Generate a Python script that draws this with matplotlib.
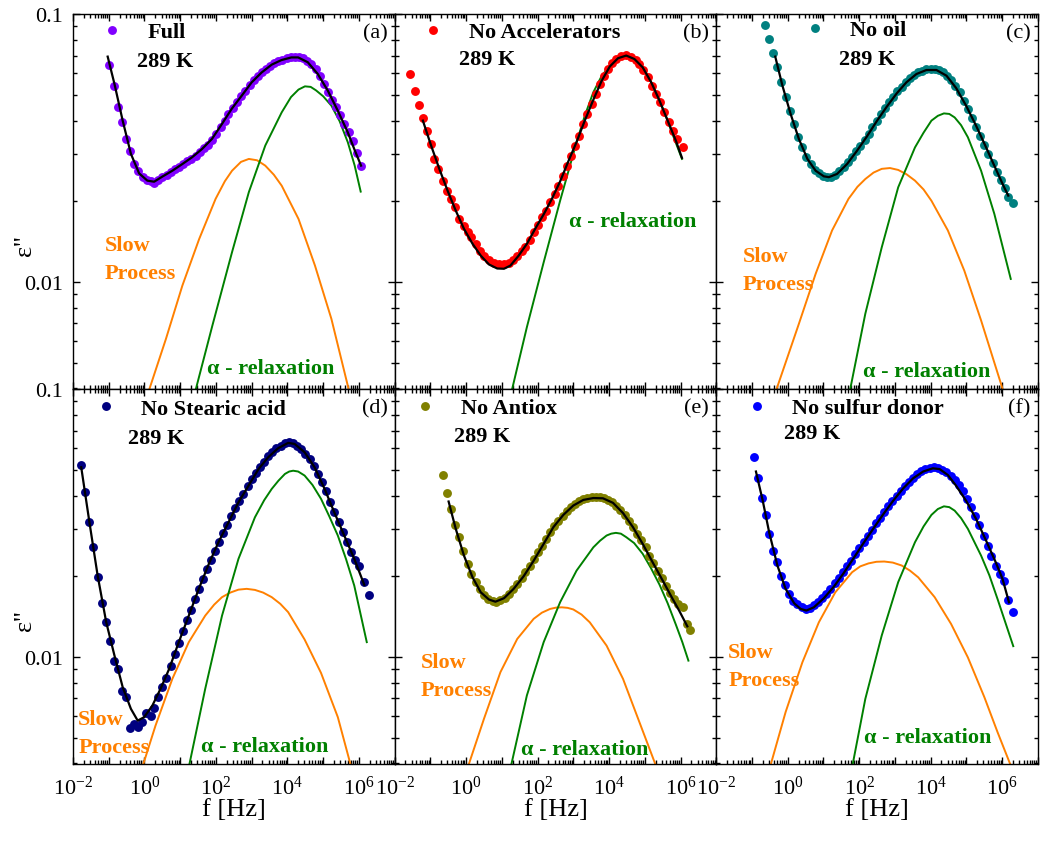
import matplotlib
matplotlib.use('Agg')
import matplotlib.pyplot as plt
import numpy as np
from matplotlib.lines import Line2D
from matplotlib.ticker import FixedLocator, LogLocator, NullFormatter, FuncFormatter

plt.rcParams['font.family'] = 'Liberation Serif'
plt.rcParams['mathtext.fontset'] = 'custom'
plt.rcParams['mathtext.rm'] = 'Liberation Serif'
plt.rcParams['mathtext.it'] = 'Liberation Serif:italic'
plt.rcParams['mathtext.bf'] = 'Liberation Serif:bold'

# every series below is (log10 f [Hz], log10 eps'') at 289 K

# --- Full
full_data = [(-0.98, -1.189), (-0.86, -1.267), (-0.74, -1.346), (-0.62, -1.404), (-0.52, -1.466),
             (-0.41, -1.510), (-0.29, -1.560), (-0.17, -1.587), (-0.05, -1.607), (0.07, -1.618),
             (0.19, -1.624), (0.28, -1.629), (0.39, -1.619), (0.50, -1.609), (0.62, -1.600),
             (0.74, -1.590), (0.85, -1.580), (0.96, -1.570), (1.08, -1.560), (1.20, -1.550),
             (1.31, -1.540), (1.43, -1.529), (1.55, -1.516), (1.67, -1.502), (1.78, -1.488),
             (1.89, -1.470), (2.01, -1.448), (2.13, -1.423), (2.24, -1.398), (2.35, -1.373),
             (2.47, -1.351), (2.59, -1.328), (2.70, -1.306), (2.81, -1.286), (2.94, -1.266),
             (3.06, -1.246), (3.17, -1.231), (3.28, -1.216), (3.40, -1.204), (3.52, -1.193),
             (3.63, -1.184), (3.74, -1.177), (3.86, -1.170), (3.98, -1.165), (4.09, -1.162),
             (4.20, -1.159), (4.32, -1.159), (4.44, -1.164), (4.56, -1.174), (4.67, -1.187),
             (4.79, -1.205), (4.91, -1.230), (5.02, -1.261), (5.13, -1.292), (5.25, -1.321),
             (5.37, -1.348), (5.48, -1.376), (5.59, -1.410), (5.71, -1.440), (5.83, -1.475),
             (5.94, -1.520), (6.06, -1.566)]
full_fit = [(-1.03, -1.159), (-0.84, -1.261), (-0.61, -1.398), (-0.38, -1.522), (-0.15, -1.595),
            (0.08, -1.622), (0.27, -1.626), (0.50, -1.607), (0.78, -1.585), (1.06, -1.560),
            (1.33, -1.535), (1.61, -1.504), (1.89, -1.466), (2.17, -1.410), (2.44, -1.354),
            (2.72, -1.305), (3.00, -1.255), (3.28, -1.218), (3.56, -1.189), (3.83, -1.172),
            (4.11, -1.162), (4.30, -1.162), (4.57, -1.180), (4.85, -1.224), (5.13, -1.286),
            (5.41, -1.361), (5.69, -1.442), (5.87, -1.504), (6.06, -1.566)]
full_slow = [(0.14, -2.399), (0.60, -2.213), (1.06, -2.014), (1.53, -1.840), (1.99, -1.690),
             (2.25, -1.624), (2.45, -1.585), (2.70, -1.552), (2.92, -1.541), (3.15, -1.546),
             (3.38, -1.566), (3.62, -1.600), (3.84, -1.641), (4.31, -1.765), (4.77, -1.939),
             (5.23, -2.138), (5.71, -2.399)]
full_alpha = [(1.44, -2.399), (1.90, -2.163), (2.45, -1.889), (2.92, -1.665), (3.38, -1.491),
              (3.84, -1.367), (4.10, -1.310), (4.31, -1.282), (4.49, -1.270), (4.65, -1.272),
              (4.80, -1.285), (5.00, -1.307), (5.23, -1.342), (5.46, -1.400), (5.69, -1.479),
              (5.88, -1.565), (6.05, -1.663)]

# --- No Accelerators
noacc_data = [(-1.58, -1.224), (-1.44, -1.286), (-1.33, -1.338), (-1.21, -1.388), (-1.09, -1.435),
              (-0.98, -1.485), (-0.89, -1.541), (-0.78, -1.578), (-0.66, -1.622), (-0.54, -1.659),
              (-0.43, -1.690), (-0.31, -1.721), (-0.19, -1.765), (-0.07, -1.790), (0.04, -1.815),
              (0.15, -1.833), (0.27, -1.858), (0.39, -1.886), (0.50, -1.902), (0.64, -1.920),
              (0.78, -1.930), (0.92, -1.935), (1.06, -1.935), (1.19, -1.930), (1.31, -1.920),
              (1.43, -1.905), (1.55, -1.886), (1.66, -1.868), (1.78, -1.843), (1.89, -1.815),
              (2.00, -1.786), (2.12, -1.759), (2.24, -1.734), (2.35, -1.703), (2.49, -1.672),
              (2.58, -1.641), (2.70, -1.603), (2.81, -1.566), (2.93, -1.529), (3.05, -1.491),
              (3.17, -1.454), (3.28, -1.410), (3.39, -1.373), (3.51, -1.336), (3.63, -1.299),
              (3.74, -1.261), (3.85, -1.230), (3.97, -1.205), (4.09, -1.184), (4.20, -1.168),
              (4.34, -1.158), (4.48, -1.153), (4.62, -1.159), (4.74, -1.172), (4.85, -1.187),
              (4.96, -1.209), (5.08, -1.236), (5.20, -1.267), (5.31, -1.299), (5.43, -1.330),
              (5.55, -1.367), (5.67, -1.404), (5.78, -1.435), (5.89, -1.466), (6.06, -1.498)]
noacc_fit = [(-1.21, -1.398), (-0.98, -1.491), (-0.75, -1.578), (-0.52, -1.659), (-0.29, -1.734),
             (-0.06, -1.802), (0.18, -1.858), (0.41, -1.902), (0.64, -1.935), (0.87, -1.950),
             (1.06, -1.951), (1.24, -1.939), (1.47, -1.902), (1.70, -1.858), (1.94, -1.800),
             (2.17, -1.748), (2.40, -1.690), (2.63, -1.625), (2.86, -1.550), (3.09, -1.478),
             (3.32, -1.398), (3.56, -1.320), (3.79, -1.250), (4.02, -1.196), (4.25, -1.165),
             (4.48, -1.155), (4.71, -1.168), (4.94, -1.199), (5.18, -1.255), (5.41, -1.323),
             (5.64, -1.398), (5.87, -1.473), (6.04, -1.537)]
noacc_alpha = [(1.29, -2.399), (1.70, -2.169), (2.17, -1.927), (2.63, -1.697), (3.09, -1.479),
               (3.32, -1.380), (3.56, -1.292), (3.79, -1.232), (4.02, -1.193), (4.28, -1.168),
               (4.53, -1.159), (4.74, -1.168), (4.94, -1.199), (5.18, -1.255), (5.41, -1.323),
               (5.60, -1.385), (5.78, -1.450), (6.04, -1.541)]

# --- No oil
nooil_data = [(-0.63, -1.040), (-0.52, -1.093), (-0.41, -1.146), (-0.29, -1.199), (-0.18, -1.255),
              (-0.06, -1.308), (0.06, -1.361), (0.18, -1.410), (0.30, -1.460), (0.41, -1.498),
              (0.52, -1.532), (0.64, -1.560), (0.76, -1.582), (0.87, -1.595), (0.98, -1.604),
              (1.10, -1.609), (1.22, -1.607), (1.33, -1.600), (1.44, -1.587), (1.56, -1.572),
              (1.69, -1.553), (1.80, -1.535), (1.91, -1.512), (2.03, -1.491), (2.15, -1.470),
              (2.26, -1.448), (2.37, -1.423), (2.49, -1.398), (2.61, -1.373), (2.72, -1.351),
              (2.83, -1.330), (2.95, -1.308), (3.07, -1.289), (3.19, -1.271), (3.30, -1.255),
              (3.42, -1.240), (3.54, -1.228), (3.65, -1.218), (3.76, -1.211), (3.88, -1.206),
              (4.00, -1.205), (4.11, -1.205), (4.22, -1.209), (4.34, -1.218), (4.46, -1.230),
              (4.57, -1.246), (4.69, -1.267), (4.81, -1.292), (4.93, -1.323), (5.04, -1.354),
              (5.15, -1.388), (5.27, -1.420), (5.39, -1.454), (5.50, -1.488), (5.61, -1.522),
              (5.73, -1.557), (5.85, -1.591), (5.96, -1.619), (6.07, -1.649), (6.17, -1.684),
              (6.30, -1.704)]
nooil_fit = [(-0.35, -1.159), (-0.15, -1.267), (0.08, -1.373), (0.31, -1.466), (0.55, -1.541),
             (0.78, -1.585), (1.01, -1.606), (1.15, -1.609), (1.38, -1.597), (1.66, -1.560),
             (1.94, -1.510), (2.21, -1.458), (2.49, -1.400), (2.77, -1.346), (3.05, -1.296),
             (3.32, -1.255), (3.60, -1.224), (3.88, -1.209), (4.16, -1.209), (4.44, -1.230),
             (4.71, -1.276), (4.99, -1.342), (5.27, -1.417), (5.55, -1.498), (5.82, -1.578),
             (6.01, -1.634), (6.17, -1.678)]
nooil_slow = [(-0.31, -2.399), (0.31, -2.157), (0.78, -1.970), (1.24, -1.808), (1.70, -1.690),
              (1.95, -1.645), (2.17, -1.616), (2.40, -1.592), (2.63, -1.578), (2.86, -1.575),
              (3.09, -1.582), (3.32, -1.598), (3.56, -1.622), (3.80, -1.655), (4.02, -1.697),
              (4.48, -1.808), (4.94, -1.958), (5.41, -2.144), (6.01, -2.399)]
nooil_alpha = [(1.75, -2.399), (2.17, -2.119), (2.63, -1.871), (3.09, -1.647), (3.56, -1.498),
               (3.80, -1.443), (4.02, -1.398), (4.20, -1.380), (4.37, -1.371), (4.52, -1.373),
               (4.67, -1.386), (4.85, -1.415), (5.04, -1.460), (5.41, -1.585), (5.78, -1.746),
               (6.24, -1.989)]

# --- No Stearic acid
nosa_data = [(-1.77, -1.284), (-1.66, -1.386), (-1.54, -1.498), (-1.43, -1.591), (-1.31, -1.703),
             (-1.19, -1.800), (-1.09, -1.871), (-0.96, -1.942), (-0.84, -2.017), (-0.73, -2.047),
             (-0.63, -2.126), (-0.52, -2.150), (-0.41, -2.265), (-0.29, -2.250), (-0.18, -2.260),
             (-0.06, -2.244), (0.04, -2.209), (0.18, -2.221), (0.27, -2.192), (0.39, -2.150),
             (0.50, -2.113), (0.61, -2.080), (0.73, -2.035), (0.84, -1.991), (0.96, -1.949),
             (1.07, -1.905), (1.19, -1.864), (1.29, -1.825), (1.41, -1.784), (1.52, -1.746),
             (1.63, -1.711), (1.75, -1.672), (1.87, -1.637), (1.98, -1.603), (2.09, -1.570),
             (2.21, -1.537), (2.31, -1.507), (2.43, -1.475), (2.54, -1.445), (2.65, -1.417),
             (2.77, -1.392), (2.89, -1.363), (3.00, -1.336), (3.11, -1.313), (3.23, -1.292),
             (3.35, -1.271), (3.46, -1.251), (3.57, -1.236), (3.69, -1.221), (3.81, -1.211),
             (3.93, -1.203), (4.04, -1.199), (4.16, -1.201), (4.28, -1.211), (4.39, -1.224),
             (4.50, -1.243), (4.62, -1.261), (4.74, -1.286), (4.85, -1.317), (4.96, -1.348),
             (5.08, -1.379), (5.20, -1.420), (5.31, -1.458), (5.43, -1.495), (5.55, -1.532),
             (5.67, -1.570), (5.78, -1.607), (5.89, -1.637), (6.01, -1.659), (6.15, -1.721),
             (6.29, -1.769)]
nosa_fit = [(-1.77, -1.292), (-1.54, -1.498), (-1.31, -1.697), (-1.07, -1.871), (-0.84, -1.995),
            (-0.61, -2.113), (-0.38, -2.194), (-0.19, -2.238), (-0.01, -2.225), (0.22, -2.182),
            (0.45, -2.119), (0.69, -2.045), (0.96, -1.945), (1.24, -1.846), (1.52, -1.746),
            (1.80, -1.653), (2.07, -1.572), (2.35, -1.498), (2.63, -1.423), (2.91, -1.361),
            (3.19, -1.299), (3.46, -1.255), (3.74, -1.221), (4.02, -1.201), (4.20, -1.205),
            (4.48, -1.236), (4.76, -1.292), (5.04, -1.373), (5.31, -1.460), (5.59, -1.547),
            (5.87, -1.634), (6.15, -1.731)]
nosa_slow = [(-0.03, -2.399), (0.31, -2.256), (0.78, -2.082), (1.24, -1.945), (1.70, -1.846),
             (1.95, -1.805), (2.17, -1.777), (2.40, -1.760), (2.63, -1.749), (2.86, -1.746),
             (3.09, -1.750), (3.32, -1.760), (3.56, -1.777), (3.80, -1.802), (4.02, -1.833),
             (4.48, -1.935), (4.94, -2.060), (5.41, -2.225), (5.76, -2.399)]
nosa_alpha = [(1.26, -2.399), (1.70, -2.119), (2.17, -1.846), (2.63, -1.634), (3.09, -1.479),
              (3.35, -1.415), (3.56, -1.373), (3.75, -1.342), (3.93, -1.317), (4.05, -1.308),
              (4.16, -1.305), (4.30, -1.308), (4.48, -1.323), (4.70, -1.358), (4.94, -1.410),
              (5.17, -1.475), (5.41, -1.547), (5.64, -1.635), (5.87, -1.734), (6.22, -1.945)]

# --- No Antiox
noaox_data = [(-0.66, -1.321), (-0.54, -1.388), (-0.43, -1.448), (-0.31, -1.507), (-0.19, -1.553),
              (-0.08, -1.603), (0.04, -1.653), (0.15, -1.690), (0.27, -1.719), (0.39, -1.746),
              (0.50, -1.769), (0.62, -1.784), (0.74, -1.792), (0.85, -1.794), (0.96, -1.789),
              (1.08, -1.779), (1.19, -1.765), (1.31, -1.746), (1.43, -1.728), (1.55, -1.706),
              (1.66, -1.684), (1.78, -1.659), (1.89, -1.634), (2.00, -1.609), (2.12, -1.585),
              (2.24, -1.560), (2.35, -1.535), (2.46, -1.512), (2.58, -1.491), (2.70, -1.473),
              (2.81, -1.456), (2.93, -1.442), (3.05, -1.429), (3.17, -1.419), (3.28, -1.412),
              (3.39, -1.407), (3.51, -1.404), (3.63, -1.403), (3.74, -1.404), (3.85, -1.408),
              (3.97, -1.414), (4.09, -1.423), (4.20, -1.435), (4.31, -1.450), (4.44, -1.470),
              (4.56, -1.491), (4.67, -1.516), (4.78, -1.540), (4.90, -1.565), (5.02, -1.590),
              (5.13, -1.622), (5.24, -1.649), (5.36, -1.678), (5.48, -1.706), (5.59, -1.734),
              (5.70, -1.761), (5.82, -1.784), (5.94, -1.802), (6.06, -1.815), (6.17, -1.877),
              (6.27, -1.898)]
noaox_fit = [(-0.49, -1.420), (-0.29, -1.522), (-0.06, -1.622), (0.18, -1.703), (0.41, -1.759),
             (0.64, -1.786), (0.82, -1.794), (1.06, -1.781), (1.33, -1.746), (1.61, -1.699),
             (1.89, -1.641), (2.17, -1.578), (2.44, -1.516), (2.72, -1.470), (3.00, -1.435),
             (3.28, -1.414), (3.56, -1.407), (3.83, -1.408), (4.11, -1.425), (4.39, -1.463),
             (4.67, -1.516), (4.94, -1.578), (5.22, -1.647), (5.50, -1.715), (5.78, -1.784),
             (5.96, -1.827), (6.19, -1.886)]
noaox_slow = [(0.08, -2.399), (0.50, -2.231), (0.96, -2.057), (1.43, -1.933), (1.89, -1.858),
              (2.12, -1.835), (2.35, -1.821), (2.52, -1.816), (2.68, -1.815), (2.84, -1.817),
              (3.00, -1.823), (3.23, -1.842), (3.46, -1.871), (3.93, -1.958), (4.39, -2.082),
              (4.85, -2.244), (5.29, -2.399)]
noaox_alpha = [(1.27, -2.399), (1.70, -2.144), (2.17, -1.945), (2.63, -1.796), (3.09, -1.678),
               (3.56, -1.591), (3.75, -1.566), (3.93, -1.547), (4.06, -1.540), (4.19, -1.537),
               (4.33, -1.540), (4.48, -1.553), (4.70, -1.575), (4.94, -1.615), (5.17, -1.668),
               (5.41, -1.730), (5.64, -1.800), (5.87, -1.880), (6.05, -1.945), (6.22, -2.014)]

# --- No sulfur donor
nosd_data = [(-0.95, -1.255), (-0.83, -1.333), (-0.72, -1.405), (-0.61, -1.470), (-0.52, -1.541),
             (-0.41, -1.603), (-0.29, -1.644), (-0.19, -1.699), (-0.07, -1.731), (0.04, -1.765),
             (0.16, -1.790), (0.27, -1.802), (0.39, -1.815), (0.50, -1.823), (0.62, -1.818),
             (0.74, -1.808), (0.85, -1.796), (0.96, -1.781), (1.08, -1.764), (1.19, -1.746),
             (1.31, -1.726), (1.43, -1.706), (1.54, -1.684), (1.66, -1.662), (1.78, -1.641),
             (1.89, -1.616), (2.00, -1.592), (2.12, -1.570), (2.24, -1.547), (2.35, -1.525),
             (2.46, -1.501), (2.58, -1.480), (2.70, -1.458), (2.81, -1.438), (2.93, -1.417),
             (3.05, -1.398), (3.17, -1.379), (3.28, -1.361), (3.39, -1.346), (3.51, -1.331),
             (3.63, -1.317), (3.74, -1.306), (3.85, -1.299), (3.97, -1.294), (4.09, -1.291),
             (4.20, -1.294), (4.31, -1.301), (4.44, -1.311), (4.56, -1.323), (4.67, -1.338),
             (4.78, -1.358), (4.90, -1.379), (5.02, -1.410), (5.13, -1.442), (5.24, -1.473),
             (5.36, -1.507), (5.48, -1.547), (5.59, -1.585), (5.70, -1.622), (5.82, -1.659),
             (5.94, -1.690), (6.06, -1.715), (6.17, -1.786), (6.30, -1.831)]
nosd_fit = [(-0.89, -1.308), (-0.70, -1.417), (-0.52, -1.535), (-0.29, -1.659), (-0.06, -1.746),
            (0.18, -1.800), (0.36, -1.821), (0.52, -1.827), (0.73, -1.815), (1.01, -1.781),
            (1.29, -1.738), (1.56, -1.688), (1.84, -1.632), (2.12, -1.575), (2.40, -1.520),
            (2.68, -1.466), (2.95, -1.417), (3.23, -1.371), (3.51, -1.333), (3.79, -1.308),
            (4.06, -1.296), (4.25, -1.299), (4.48, -1.321), (4.71, -1.361), (4.99, -1.417),
            (5.27, -1.485), (5.55, -1.566), (5.82, -1.647), (6.01, -1.709), (6.19, -1.796)]
nosd_slow = [(-0.47, -2.399), (-0.06, -2.206), (0.41, -2.020), (0.87, -1.871), (1.33, -1.759),
             (1.80, -1.684), (2.03, -1.662), (2.26, -1.651), (2.48, -1.645), (2.70, -1.644),
             (2.94, -1.648), (3.19, -1.659), (3.42, -1.678), (3.65, -1.703), (4.11, -1.777),
             (4.57, -1.877), (5.04, -2.002), (5.50, -2.150), (5.87, -2.281), (6.22, -2.399)]
nosd_alpha = [(1.82, -2.399), (2.17, -2.157), (2.63, -1.920), (3.09, -1.721), (3.56, -1.572),
              (3.80, -1.513), (4.02, -1.470), (4.20, -1.448), (4.37, -1.438), (4.52, -1.441),
              (4.67, -1.454), (4.85, -1.482), (5.04, -1.522), (5.41, -1.622), (5.64, -1.695),
              (5.87, -1.784), (6.31, -1.960)]

ORANGE = '#FF8000'
GREEN = '#008000'
MS = 6.4

panels = [
    dict(tag='(a)', name='Full', color='#8000FF', data=full_data, fit=full_fit,
         slow=full_slow, alpha=full_alpha, leg=(0.115, 0.952), temp=(0.199, 0.875),
         slow_at=(0.099, 0.347), alpha_at=(0.416, 0.056)),
    dict(tag='(b)', name='No Accelerators', color='#FF0000', data=noacc_data, fit=noacc_fit,
         slow=None, alpha=noacc_alpha, leg=(0.115, 0.952), temp=(0.199, 0.880),
         slow_at=None, alpha_at=(0.543, 0.448)),
    dict(tag='(c)', name='No oil', color='#008080', data=nooil_data, fit=nooil_fit,
         slow=nooil_slow, alpha=nooil_alpha, leg=(0.301, 0.957), temp=(0.382, 0.880),
         slow_at=(0.081, 0.317), alpha_at=(0.457, 0.048)),
    dict(tag='(d)', name='No Stearic acid', color='#000080', data=nosa_data, fit=nosa_fit,
         slow=nosa_slow, alpha=nosa_alpha, leg=(0.096, 0.947), temp=(0.171, 0.869),
         slow_at=(0.016, 0.083), alpha_at=(0.398, 0.048)),
    dict(tag='(e)', name='No Antiox', color='#808000', data=noaox_data, fit=noaox_fit,
         slow=noaox_slow, alpha=noaox_alpha, leg=(0.090, 0.949), temp=(0.183, 0.875),
         slow_at=(0.081, 0.235), alpha_at=(0.394, 0.040)),
    dict(tag='(f)', name='No sulfur donor', color='#0000FF', data=nosd_data, fit=nosd_fit,
         slow=nosd_slow, alpha=nosd_alpha, leg=(0.120, 0.949), temp=(0.211, 0.883),
         slow_at=(0.037, 0.261), alpha_at=(0.460, 0.072)),
]


def to_lin(pts):
    arr = np.array(pts, dtype=float)
    return 10 ** arr[:, 0], 10 ** arr[:, 1]


def xlabel_fmt(v, pos):
    e = int(round(np.log10(v)))
    if e % 2 == 0 and e <= 6:
        return '$10^{%d}$' % e
    return ''


def draw_panel(ax, p):
    if p['slow'] is not None:
        x, y = to_lin(p['slow'])
        ax.plot(x, y, color=ORANGE, lw=1.4, zorder=2, solid_joinstyle='round')
    x, y = to_lin(p['alpha'])
    ax.plot(x, y, color=GREEN, lw=1.4, zorder=2, solid_joinstyle='round')
    x, y = to_lin(p['data'])
    ax.plot(x, y, ls='none', marker='o', ms=MS, mec='none', color=p['color'], zorder=3)
    x, y = to_lin(p['fit'])
    ax.plot(x, y, color='black', lw=1.6, zorder=4, solid_joinstyle='round')

    handle = Line2D([], [], ls='none', marker='o', ms=MS, mec='none', color=p['color'])
    lx, ly = p['leg']
    ax.legend([handle], [p['name']], loc='center left', bbox_to_anchor=(lx - 0.036, ly),
              frameon=False, handlelength=1.2, handletextpad=1.0, borderpad=0,
              borderaxespad=0, prop=dict(weight='bold', size=16))
    ax.text(p['temp'][0], p['temp'][1], '289 K', transform=ax.transAxes, fontsize=16,
            fontweight='bold', va='center', ha='left')
    ax.text(0.978, 0.95, p['tag'], transform=ax.transAxes, fontsize=16,
            va='center', ha='right')
    if p['slow_at'] is not None:
        ax.text(p['slow_at'][0], p['slow_at'][1], 'Slow\nProcess', transform=ax.transAxes,
                fontsize=16, fontweight='bold', color=ORANGE, va='center', ha='left',
                linespacing=1.5)
    ax.text(p['alpha_at'][0], p['alpha_at'][1], 'α - relaxation', transform=ax.transAxes,
            fontsize=16, fontweight='bold', color=GREEN, va='center', ha='left')


fig, axes = plt.subplots(2, 3, figsize=(10.4, 8.54), sharex=True, sharey=True)
fig.subplots_adjust(left=0.0702, right=0.998, top=0.9824, bottom=0.1042, wspace=0, hspace=0)

for ax, p in zip(axes.flat, panels):
    ax.set_xscale('log')
    ax.set_yscale('log')
    draw_panel(ax, p)
    for s in ax.spines.values():
        s.set_linewidth(1.0)

ax0 = axes[0, 0]
ax0.set_xlim(1e-2, 1e7)
ax0.set_ylim(10 ** -2.4, 0.1)
ax0.xaxis.set_major_locator(FixedLocator(10.0 ** np.arange(-2, 8)))
ax0.xaxis.set_minor_locator(LogLocator(base=10, subs=np.arange(2, 10), numticks=30))
ax0.xaxis.set_major_formatter(FuncFormatter(xlabel_fmt))
ax0.xaxis.set_minor_formatter(NullFormatter())
ax0.yaxis.set_major_locator(FixedLocator([0.01, 0.1]))
ax0.yaxis.set_minor_locator(LogLocator(base=10, subs=np.arange(2, 10), numticks=30))
ax0.yaxis.set_major_formatter(FuncFormatter(lambda v, pos: '%g' % v))
ax0.yaxis.set_minor_formatter(NullFormatter())

for ax in axes.flat:
    ax.tick_params(which='both', direction='in', top=True, right=True, width=1.0, labelsize=16)
    ax.tick_params(which='major', length=5)
    ax.tick_params(which='minor', length=3)
    ax.tick_params(axis='x', which='major', pad=8)
    ax.tick_params(axis='y', which='major', pad=7)

for ax in axes[:, 0]:
    ax.set_ylabel("ε''", fontsize=19)
    ax.yaxis.set_label_coords(-0.115, 0.386)
for ax in axes[1, :]:
    ax.set_xlabel('f [Hz]', fontsize=19)
    ax.xaxis.set_label_coords(0.5, -0.09)

fig.savefig('out.png', dpi=100)
